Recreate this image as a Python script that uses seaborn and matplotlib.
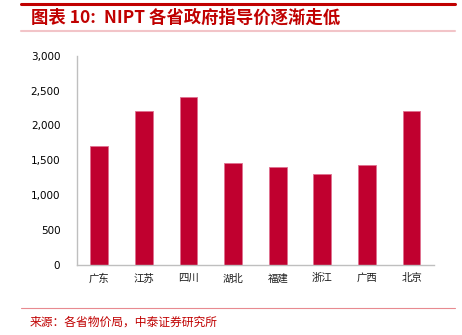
import matplotlib
matplotlib.use("Agg")
import matplotlib.pyplot as plt
import seaborn as sns
import numpy as np
from matplotlib.ticker import FuncFormatter, FixedLocator
from matplotlib.lines import Line2D

provinces = ["广东", "江苏", "四川", "湖北", "福建", "浙江", "广西", "北京"]
prices = [1700, 2200, 2400, 1460, 1400, 1300, 1430, 2200]
y_ticks = [0, 500, 1000, 1500, 2000, 2500, 3000]

title_text = "图表 10:  NIPT 各省政府指导价逐渐走低"
source_text = "来源：各省物价局，中泰证券研究所"

sns.set_style("white")
plt.rcParams["font.family"] = ["Noto Sans CJK SC", "DejaVu Sans"]

bar_color = "#C0002F"
red = "#C00000"

fig = plt.figure(figsize=(4.62, 3.35), dpi=100)
ax = fig.add_axes([0.1667, 0.209, 0.7723, 0.625])

sns.barplot(x=provinces, y=prices, color=bar_color, saturation=1,
            width=0.4, ax=ax, edgecolor="#E07090", linewidth=0.6)

ax.set_ylim(0, 3000)
ax.set_xlim(-0.5, len(provinces) - 0.5)
ax.yaxis.set_major_locator(FixedLocator(y_ticks))
ax.yaxis.set_major_formatter(FuncFormatter(lambda v, p: f"{int(v):,}"))
ax.set_xlabel("")
ax.set_ylabel("")

for s in ["top", "right"]:
    ax.spines[s].set_visible(False)
for s in ["left", "bottom"]:
    ax.spines[s].set_color("#BFBFBF")
    ax.spines[s].set_linewidth(1.0)

ax.tick_params(axis="y", which="major", direction="out", length=4, width=0.8,
               color="#BFBFBF", labelsize=7.5, labelcolor="#000000", pad=8)
ax.tick_params(axis="x", which="major", length=0, labelsize=7.5,
               labelcolor="#1A1A1A", pad=6)
ax.set_xticks(np.arange(-0.5, len(provinces), 1.0), minor=True)
ax.tick_params(axis="x", which="minor", direction="out", length=4, width=0.8,
               color="#BFBFBF")
for lbl in ax.get_yticklabels():
    lbl.set_fontfamily(["DejaVu Sans"])
for lbl in ax.get_xticklabels():
    lbl.set_fontfamily(["Noto Sans CJK SC"])

# header and footer rules
W, H = 462.0, 335.0
fig.add_artist(Line2D([21 / W, 455 / W], [1 - 4 / H, 1 - 4 / H],
                      color="#C00000", linewidth=2.2))
fig.add_artist(Line2D([21 / W, 455 / W], [1 - 31 / H, 1 - 31 / H],
                      color="#F2C4C8", linewidth=1.5))
fig.add_artist(Line2D([21 / W, 455 / W], [1 - 308 / H, 1 - 308 / H],
                      color="#E88A90", linewidth=0.8))

fig.text(31 / W, 1 - 18 / H, title_text, color=red, fontsize=12.5,
         fontweight="bold", fontstyle="italic", va="center", ha="left")
fig.text(30 / W, 1 - 322 / H, source_text, color=red, fontsize=8.5,
         va="center", ha="left")

fig.savefig("out.png", dpi=100)
